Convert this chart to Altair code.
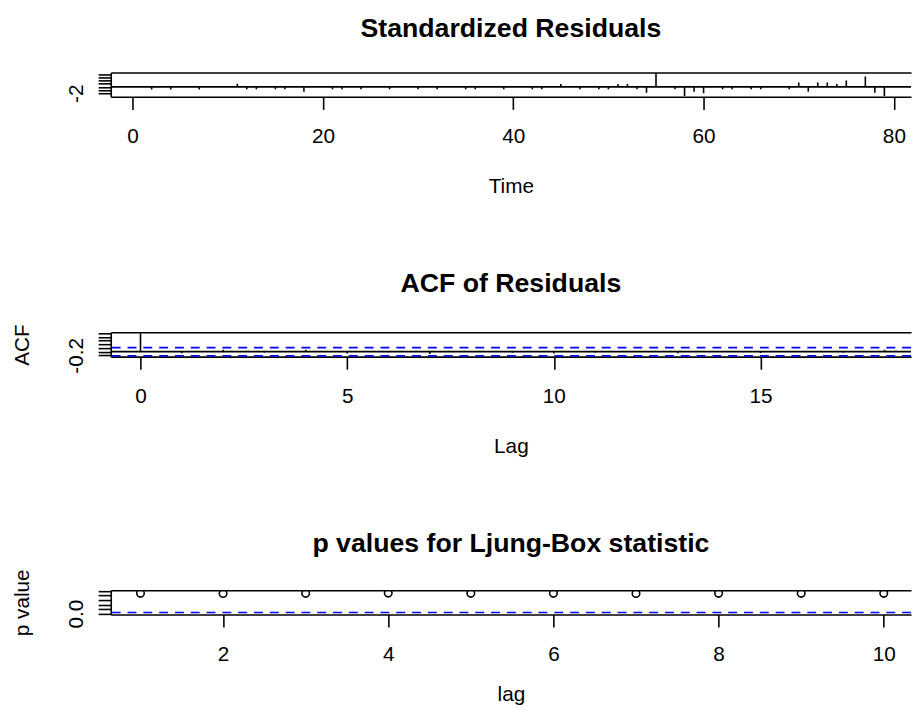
import altair as alt
import pandas as pd

# ---------------- data ----------------
time_index = list(range(1, 80))
std_resid = [
    0.2, -0.8, 0.1, -0.8, 0.2, 0.1, -0.8, 0.2, 0.1, 0.2,
    1.0, -0.7, -0.7, 0.2, -0.7, -0.7, 0.1, -1.5, 0.2, 0.1,
    -0.7, -0.7, 0.2, -0.7, 0.1, 0.2, -0.7, 0.1, 0.2, -0.7,
    0.1, -0.7, 0.2, 0.1, -0.7, -0.7, 0.2, 0.1, -0.7, 0.2,
    0.1, -0.7, -0.7, 0.2, 0.9, 0.1, -0.7, 0.2, -0.7, -0.7,
    0.9, 0.9, -0.7, -1.8, 4.2, 0.2, -0.7, -2.8, -1.5, -2.0,
    0.2, -0.7, -0.7, 0.1, -0.7, -0.7, 0.2, 0.1, -0.7, 1.4,
    -1.5, 1.4, 1.4, 0.9, 2.0, 0.2, 3.2, -1.8, -2.8,
]

acf_lag = list(range(0, 19))
acf_value = [1.0, -0.08, 0.11, -0.05, 0.11, -0.10, -0.03, -0.12, 0.02, -0.06,
             -0.10, -0.04, 0.03, -0.09, -0.02, -0.07, 0.01, -0.05, 0.10]
acf_conf = 0.2205

lb_lag = list(range(1, 11))
lb_pvalue = [0.90, 0.89, 0.90, 0.91, 0.90, 0.90, 0.89, 0.90, 0.90, 0.90]
lb_threshold = 0.05

resid_ticks_x = [0, 20, 40, 60, 80]
resid_ticks_y = [-2, -1, 0, 1, 2, 3, 4]
acf_ticks_x = [0, 5, 10, 15]
acf_ticks_y = [-0.2, 0.0, 0.2, 0.4, 0.6, 0.8, 1.0]
lb_ticks_x = [2, 4, 6, 8, 10]
lb_ticks_y = [0.0, 0.2, 0.4, 0.6, 0.8, 1.0]

panel_titles = ["Standardized Residuals", "ACF of Residuals",
                "p values for Ljung-Box statistic"]

# ---------------- styling ----------------
FONT = "Liberation Sans"
LW = 1.6
BLUE = "#0000FF"
DASH = [9, 7]
PLOT_W = 810
PLOT_H = 24.6
TICK = 12.75
LBL = 21
TITLE_FS = 27


def r_range(lo, hi):
    pad = 0.04 * (hi - lo)
    return [lo - pad, hi + pad]


def x_bottom(values, title, title_pad):
    return alt.Axis(orient="bottom", values=values, title=title, format="d",
                    tickSize=TICK, tickWidth=LW, tickColor="black",
                    domainColor="black", domainWidth=LW,
                    labelFont=FONT, labelFontSize=LBL, labelColor="black",
                    labelPadding=16.4, labelAngle=0, labelFlush=False,
                    labelOverlap=False, grid=False,
                    titleFont=FONT, titleFontSize=LBL, titleFontWeight="normal",
                    titleColor="black", titlePadding=title_pad)


def x_top():
    return alt.Axis(orient="top", labels=False, ticks=False, title=None,
                    domain=True, domainColor="black", domainWidth=LW, grid=False)


def y_left(values, keep, text, title):
    return alt.Axis(orient="left", values=values,
                    labelExpr=f"abs(datum.value - ({keep})) < 1e-9 ? '{text}' : ''",
                    tickSize=TICK, tickWidth=LW, tickColor="black",
                    domainColor="black", domainWidth=LW,
                    labelFont=FONT, labelFontSize=LBL, labelColor="black",
                    labelAngle=270, labelAlign="center", labelBaseline="alphabetic",
                    labelPadding=16, labelOverlap=False, labelFlush=False, grid=False,
                    title=title, titleFont=FONT, titleFontSize=LBL,
                    titleFontWeight="normal", titleColor="black", titleAngle=270,
                    titleBaseline="alphabetic", titlePadding=37)


def title_params(text, offset):
    return alt.TitleParams(text=text, font=FONT, fontSize=TITLE_FS, fontWeight="bold",
                           color="black", anchor="middle", frame="group",
                           baseline="alphabetic", offset=offset)


# ---------------- panel 1 ----------------
df1 = pd.DataFrame({"time": time_index, "resid": std_resid})
x1 = alt.Scale(domain=[-2.3, 81.8], nice=False, zero=False)
y1 = alt.Scale(domain=r_range(min(std_resid), max(std_resid)), nice=False, zero=False)
ya1 = y_left(resid_ticks_y, -2, "-2", None)

p1 = alt.layer(
    alt.Chart(df1).mark_rule(color="black", strokeWidth=LW, clip=True).encode(
        x=alt.X("time:Q", scale=x1, axis=x_bottom(resid_ticks_x, "Time", 30)),
        y=alt.Y("resid:Q", scale=y1, axis=ya1),
        y2=alt.datum(0)),
    alt.Chart(df1).mark_rule(opacity=0).encode(
        x=alt.X("time:Q", scale=x1, axis=x_top())),
    alt.Chart(pd.DataFrame({"h": [0]})).mark_rule(color="black", strokeWidth=LW).encode(
        y=alt.Y("h:Q", scale=y1, axis=ya1)),
).resolve_axis(x="independent").properties(
    width=PLOT_W, height=PLOT_H, title=title_params(panel_titles[0], 9))

# ---------------- panel 2 ----------------
df2 = pd.DataFrame({"lag": acf_lag, "acf": acf_value})
x2 = alt.Scale(domain=[-0.72, 18.64], nice=False, zero=False)
y2 = alt.Scale(domain=r_range(min(min(acf_value), -acf_conf), max(max(acf_value), acf_conf)),
               nice=False, zero=False)
ya2 = y_left(acf_ticks_y, -0.2, "-0.2", "ACF")

p2 = alt.layer(
    alt.Chart(df2).mark_rule(color="black", strokeWidth=LW, clip=True).encode(
        x=alt.X("lag:Q", scale=x2, axis=x_bottom(acf_ticks_x, "Lag", 30)),
        y=alt.Y("acf:Q", scale=y2, axis=ya2),
        y2=alt.datum(0)),
    alt.Chart(df2).mark_rule(opacity=0).encode(
        x=alt.X("lag:Q", scale=x2, axis=x_top())),
    alt.Chart(pd.DataFrame({"h": [0]})).mark_rule(color="black", strokeWidth=LW).encode(
        y=alt.Y("h:Q", scale=y2, axis=ya2)),
    alt.Chart(pd.DataFrame({"h": [acf_conf, -acf_conf]})).mark_rule(
        color=BLUE, strokeWidth=LW, strokeDash=DASH).encode(
        y=alt.Y("h:Q", scale=y2, axis=ya2)),
).resolve_axis(x="independent").properties(
    width=PLOT_W, height=PLOT_H, title=title_params(panel_titles[1], 5))

# ---------------- panel 3 ----------------
df3 = pd.DataFrame({"lag": lb_lag, "p": lb_pvalue})
x3 = alt.Scale(domain=[0.64, 10.33], nice=False, zero=False)
y3 = alt.Scale(domain=r_range(0, 1), nice=False, zero=False)
ya3 = y_left(lb_ticks_y, 0, "0.0", "p value")

p3 = alt.layer(
    alt.Chart(df3).mark_point(shape="circle", filled=False, color="black",
                              strokeWidth=LW, size=58, opacity=1, clip=True).encode(
        x=alt.X("lag:Q", scale=x3, axis=x_bottom(lb_ticks_x, "lag", 20)),
        y=alt.Y("p:Q", scale=y3, axis=ya3)),
    alt.Chart(df3).mark_rule(opacity=0).encode(
        x=alt.X("lag:Q", scale=x3, axis=x_top())),
    alt.Chart(pd.DataFrame({"h": [lb_threshold]})).mark_rule(
        color=BLUE, strokeWidth=LW, strokeDash=DASH).encode(
        y=alt.Y("h:Q", scale=y3, axis=ya3)),
).resolve_axis(x="independent").properties(
    width=PLOT_W, height=PLOT_H, title=title_params(panel_titles[2], -10))

chart = alt.vconcat(p1, p2, p3, spacing=72).properties(
    padding={"left": 3, "top": 2, "right": 0, "bottom": 0},
    background="white",
).configure_view(stroke="transparent")

chart.save("out.html", embed_options={"renderer": "svg", "actions": False})
